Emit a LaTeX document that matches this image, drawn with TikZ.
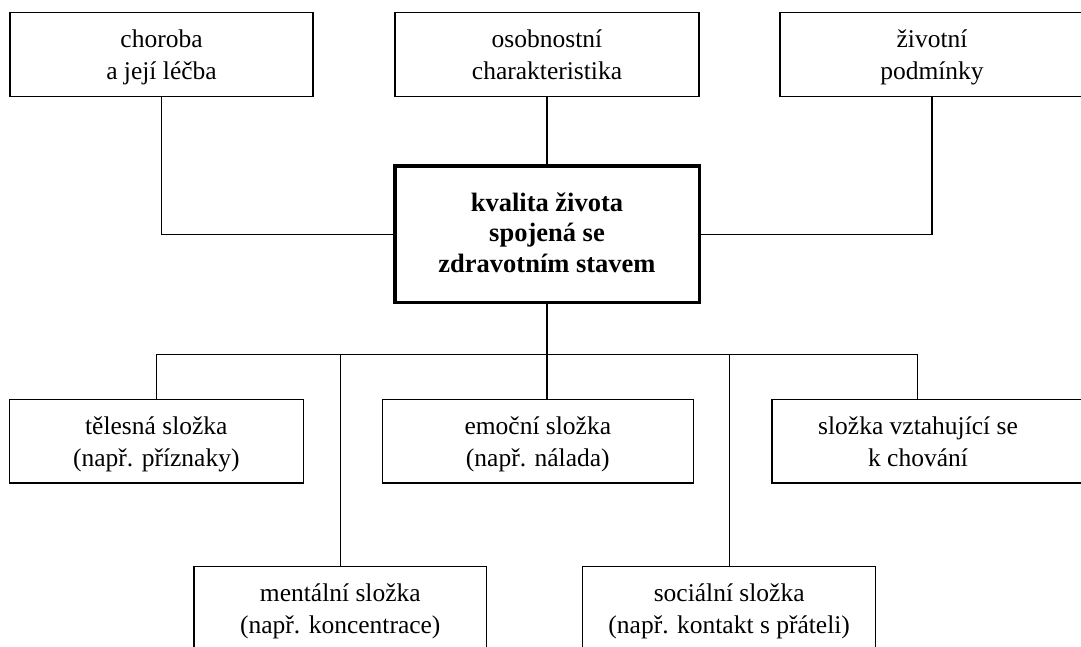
\documentclass[tikz,border=0pt]{standalone}
\usepackage{fontspec}
\setmainfont{Liberation Serif}
\newcommand\tstrut{\rule[-6.5pt]{0pt}{31.3pt}}
\newcommand\bstrut{\rule[-7.5pt]{0pt}{30pt}}
\begin{document}
\begin{tikzpicture}[x=1pt,y=-1pt,
  box/.style={draw=black, line width=1.3pt, rectangle, align=center, inner sep=0pt,
    font=\fontsize{25.5}{31.7}\selectfont, minimum height=83.5pt},
  mainbox/.style={box, line width=3.3pt, font=\fontsize{26.5}{30.5}\selectfont\bfseries},
  link/.style={draw=black, line width=1.3pt}]
\useasboundingbox (0,0) rectangle (1081,646);
\clip (0,0) rectangle (1081,646);
% top row
\node[box, minimum width=303pt] (c1) at (161.5,54.4) {\tstrut choroba\\a její léčba\tstrut};
\node[box, minimum width=304pt] (c2) at (547,54.4) {\tstrut osobnostní\\charakteristika\tstrut};
\node[box, minimum width=304pt] (c3) at (932,54.4) {\tstrut životní\\podmínky\tstrut};
% central
\node[mainbox, minimum width=304.3pt, minimum height=136.3pt] (q) at (547,234.2) {\bstrut kvalita života\\spojená se\\zdravotním stavem\bstrut};
% second row
\node[box, minimum width=294pt] (r1) at (156.3,441.3) {\tstrut tělesná složka\\(např. příznaky)\tstrut};
\node[box, minimum width=311pt] (r2) at (537.8,441.3) {\tstrut emoční složka\\(např. nálada)\tstrut};
\node[box, minimum width=318pt] (r3) at (931,441.3) {\hspace*{-26pt}\tstrut složka vztahující se\\\hspace*{-26pt}k chování\tstrut};
% third row
\node[box, minimum width=292.7pt] (m) at (340.3,608.4) {\tstrut mentální složka\\(např. koncentrace)\tstrut};
\node[box, minimum width=293pt] (s) at (729.2,608.4) {\tstrut sociální složka\\(např. kontakt s přáteli)\tstrut};
% coordinates
\coordinate (bus) at (547,354.3);
\coordinate (r3top) at (917.7,399.3);
% connectors
\draw[link] (c1.south) |- (q.west);
\draw[link] (c3.south) |- (q.east);
\draw[link] (c2.south) -- (q.north);
\draw[link] (q.south) -- (q.south |- r2.north);
\draw[link] (r1.north) |- (bus);
\draw[link] (m.north) |- (bus);
\draw[link] (r3top) |- (bus);
\draw[link] (s.north) |- (bus);
\end{tikzpicture}
\end{document}
